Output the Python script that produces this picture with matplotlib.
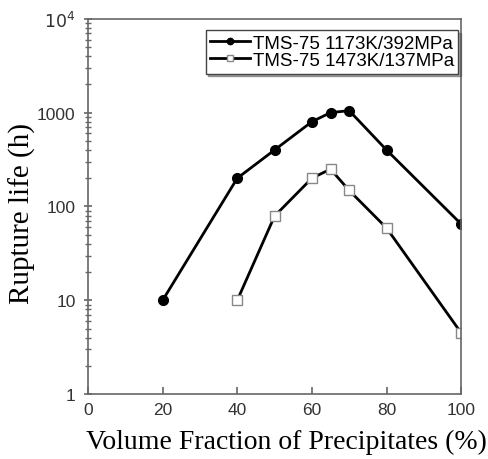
import matplotlib
matplotlib.use("Agg")
import matplotlib.pyplot as plt
from matplotlib.ticker import FixedLocator, LogLocator, NullFormatter

x1 = [20, 40, 50, 60, 65, 70, 80, 100]
y1 = [10, 200, 400, 800, 1000, 1050, 400, 65]
x2 = [40, 50, 60, 65, 70, 80, 100]
y2 = [10, 79, 200, 250, 148, 59, 4.5]
label1 = "TMS-75 1173K/392MPa"
label2 = "TMS-75 1473K/137MPa"
xticks = [0, 20, 40, 60, 80, 100]
yticks = [1, 10, 100, 1000, 10000]
ytick_labels = ["1", "10", "100", "1000", "$10^4$"]

fig = plt.figure(figsize=(4.89, 4.60), dpi=100)
ax = fig.add_axes([0.18, 0.141, 0.763, 0.816])

ax.plot(x1, y1, color="black", lw=2, marker="o", ms=7, mfc="black", mec="black", label=label1)
ax.plot(x2, y2, color="black", lw=2, marker="s", ms=7, mfc="white", mec="#888888", mew=1, label=label2)

ax.set_yscale("log")
ax.set_xlim(0, 100)
ax.set_ylim(1, 10000)
ax.set_xticks(xticks)
ax.set_xticklabels([str(v) for v in xticks], family="Liberation Sans", fontsize=12.5, color="#333333")
ax.yaxis.set_major_locator(FixedLocator(yticks))
ax.set_yticklabels(ytick_labels, family="Liberation Sans", fontsize=12.5, color="#333333")
ax.yaxis.set_minor_locator(LogLocator(base=10, subs=range(2, 10)))
ax.yaxis.set_minor_formatter(NullFormatter())

for s in ax.spines.values():
    s.set_color("#666666")
    s.set_linewidth(1.2)
ax.tick_params(axis="both", which="major", direction="inout", length=6, color="#666666", width=1.2)
ax.tick_params(axis="y", which="minor", direction="inout", length=4, color="#666666", width=1)
ax.tick_params(axis="y", which="major", pad=6)
ax.tick_params(axis="x", which="major", direction="in", length=5, pad=6)

ax.set_xlabel("Volume Fraction of Precipitates (%)", family="Liberation Serif", fontsize=20)
ax.set_ylabel("Rupture life (h)", family="Liberation Serif", fontsize=21)
ax.xaxis.set_label_coords(0.533, -0.093)
ax.yaxis.set_label_coords(-0.14, 0.483)

leg = ax.legend(loc="upper right", bbox_to_anchor=(1.008, 0.985), prop={"family": "Liberation Sans", "size": 13.5},
                frameon=True, fancybox=False, shadow=True, handlelength=2.1, handletextpad=0.15,
                borderpad=0.25, labelspacing=0.0, borderaxespad=0.3, markerscale=0.65)
leg.get_frame().set_edgecolor("#444444")
leg.get_frame().set_linewidth(1)

fig.savefig("out.png", dpi=100)
